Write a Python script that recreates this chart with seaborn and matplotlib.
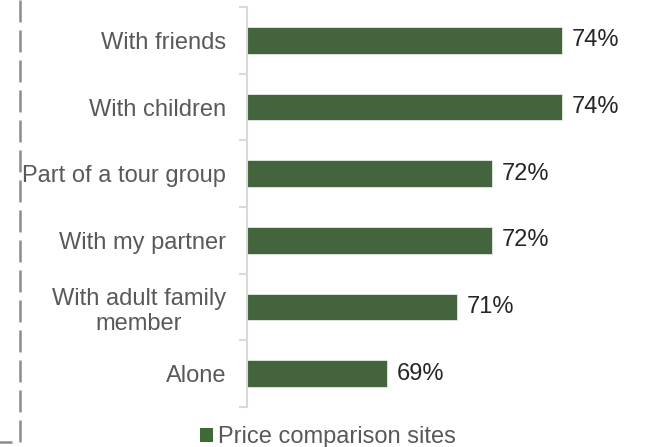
import matplotlib.pyplot as plt
import matplotlib.lines as mlines
import pandas as pd
import seaborn as sns

categories = ['With friends', 'With children', 'Part of a tour group',
              'With my partner', 'With adult family\nmember', 'Alone']
values = [74, 74, 72, 72, 71, 69]
series_name = 'Price comparison sites'

sns.set_style('white')
plt.rcParams['font.family'] = ['Liberation Sans', 'DejaVu Sans']

df = pd.DataFrame({'Group': categories, 'Share': values, 'Series': series_name})

W, H = 649, 447
fig = plt.figure(figsize=(W / 100, H / 100), dpi=100)
ax = fig.add_axes([247 / W, 1 - 407 / H, (645 - 247) / W, 400 / H])

sns.barplot(data=df, y='Group', x='Share', hue='Series', orient='h',
            palette=['#3e6b35'], width=0.4, edgecolor='#e6ebe4', linewidth=0.6,
            legend=False, ax=ax)

ax.set_xlim(65, 76.37)
ax.set_ylim(5.5, -0.5)
ax.set_xlabel('')
ax.set_ylabel('')
ax.set_xticks([])

for s in ['top', 'right', 'bottom']:
    ax.spines[s].set_visible(False)
ax.spines['left'].set_color('#d9d9d9')
ax.spines['left'].set_linewidth(1.5)

# tick marks sit between categories
ax.set_yticks([i - 0.5 for i in range(len(categories) + 1)], minor=True)
ax.tick_params(axis='y', which='minor', length=6, width=1.5, color='#d9d9d9', left=True)
ax.tick_params(axis='y', which='major', length=0, pad=15, labelsize=17, labelcolor='#595959')
for lbl in ax.get_yticklabels():
    lbl.set_multialignment('center')

for c in ax.containers:
    ax.bar_label(c, labels=[f'{v:.0f}%' for v in values], padding=7,
                 fontsize=17, color='#262626')

handle = plt.Rectangle((0, 0), 1, 1, facecolor='#3e6b35', edgecolor='none')
fig.legend([handle], [series_name], loc='center', bbox_to_anchor=(328 / W, 1 - 437 / H),
           frameon=False, fontsize=17, labelcolor='#595959', handlelength=0.55,
           handleheight=0.55, handletextpad=0.2, borderpad=0, borderaxespad=0)

# dashed frame edge on the left
lw = 1.8
frame = mlines.Line2D([20 / W, 20 / W, -20 / W], [1.0, 1 - 442 / H, 1 - 442 / H],
                      transform=fig.transFigure, color='#8c8c8c', linewidth=lw,
                      dashes=(15.8 / lw, 5.8 / lw))
fig.add_artist(frame)

fig.savefig('out.png', dpi=100)
plt.close()
